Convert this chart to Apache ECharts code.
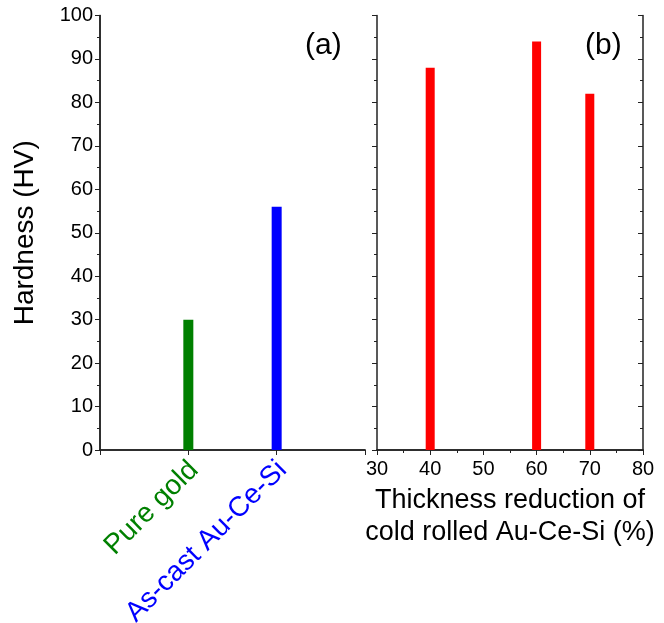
<!DOCTYPE html>
<html><head><meta charset="utf-8">
<script src="https://cdn.jsdelivr.net/npm/echarts@6/dist/echarts.min.js"></script>
<style>html,body{margin:0;padding:0;background:#fff}#c{width:664px;height:623px}</style>
</head><body><div id="c"></div>
<script>
// Data
var leftCategories = ['Pure gold', 'As-cast Au-Ce-Si'];
var leftPositions = [1, 2];
var leftHardness = [30, 56];
var rightReduction = [40, 60, 70];
var rightHardness = [88, 94, 82];
var yTicks = [0, 100, 10];      // min, max, interval
var xRightTicks = [30, 80, 10];

var leftColors = ['#008000', '#0000ff'];
var FONT = '"Liberation Sans", Arial, sans-serif';
var AX = '#222';

var chart = echarts.init(document.getElementById('c'), null, {renderer: 'canvas'});

function yAx(grid, pos, inside, labels, name) {
  return {
    type: 'value', gridIndex: grid, position: pos,
    min: yTicks[0], max: yTicks[1], interval: yTicks[2],
    name: name || '', nameLocation: 'middle', nameGap: 61,
    nameTextStyle: {fontFamily: FONT, fontSize: 28, color: '#000'},
    axisLine: {show: true, lineStyle: {color: AX, width: 1.5}},
    axisTick: {show: true, inside: inside, length: 5, lineStyle: {color: AX, width: 1}},
    minorTick: {show: true, splitNumber: 2, length: 3, lineStyle: {color: AX, width: 1}},
    axisLabel: {show: labels, fontFamily: FONT, fontSize: 20, color: '#000', margin: 7},
    splitLine: {show: false}, minorSplitLine: {show: false}
  };
}

var leftData = leftPositions.map(function (p, i) {
  return {value: [p, leftHardness[i]], itemStyle: {color: leftColors[i]}};
});
var rightData = rightReduction.map(function (r, i) { return [r, rightHardness[i]]; });

var option = {
  animation: false,
  grid: [
    {left: 100, right: 299, top: 15.5, bottom: 173, containLabel: false, outerBoundsMode: 'none'},
    {left: 377, right: 21, top: 15.5, bottom: 173, containLabel: false, outerBoundsMode: 'none'}
  ],
  xAxis: [
    {
      type: 'value', gridIndex: 0, position: 'bottom', min: 0, max: 3, interval: 1,
      axisLine: {show: true, lineStyle: {color: AX, width: 1.5}},
      axisTick: {show: true, length: 5, lineStyle: {color: AX}},
      axisLabel: {
        show: true, rotate: 45, margin: 10, fontFamily: FONT, fontSize: 28,
        padding: [16, 0, 0, 0],
        formatter: function (v) {
          var i = leftPositions.indexOf(v);
          return i < 0 ? '' : '{c' + i + '|' + leftCategories[i] + '}';
        },
        rich: {
          c0: {color: leftColors[0], fontFamily: FONT, fontSize: 28},
          c1: {color: leftColors[1], fontFamily: FONT, fontSize: 28}
        }
      },
      splitLine: {show: false}
    },
    {
      type: 'value', gridIndex: 0, position: 'top', min: 0, max: 3, interval: 1,
      axisLine: {show: true, lineStyle: {color: AX, width: 1.5}},
      axisTick: {show: true, inside: true, length: 5, lineStyle: {color: AX}},
      axisLabel: {show: false}, splitLine: {show: false}
    },
    {
      type: 'value', gridIndex: 1, position: 'bottom',
      min: xRightTicks[0], max: xRightTicks[1], interval: xRightTicks[2],
      name: 'Thickness reduction of\ncold rolled Au-Ce-Si (%)',
      nameLocation: 'middle', nameGap: 35,
      nameTextStyle: {fontFamily: FONT, fontSize: 27, color: '#000', lineHeight: 32},
      axisLine: {show: true, lineStyle: {color: AX, width: 1.5}},
      axisTick: {show: true, length: 5, lineStyle: {color: AX}},
      minorTick: {show: true, splitNumber: 2, length: 3, lineStyle: {color: AX}},
      axisLabel: {fontFamily: FONT, fontSize: 20, color: '#000', margin: 9},
      splitLine: {show: false}
    },
    {
      type: 'value', gridIndex: 1, position: 'top',
      min: xRightTicks[0], max: xRightTicks[1], interval: xRightTicks[2],
      axisLine: {show: true, lineStyle: {color: AX, width: 1.5}},
      axisTick: {show: true, inside: true, length: 5, lineStyle: {color: AX}},
      minorTick: {show: true, splitNumber: 2, length: 3, lineStyle: {color: AX}},
      axisLabel: {show: false}, splitLine: {show: false}
    }
  ],
  yAxis: [
    yAx(0, 'left', false, true, 'Hardness (HV)'),
    yAx(0, 'right', true, false),
    yAx(1, 'left', false, false),
    yAx(1, 'right', true, false)
  ],
  graphic: [
    {type: 'text', left: 305, top: 31, style: {text: '(a)', font: '30px ' + FONT, fill: '#000'}},
    {type: 'text', left: 585, top: 31, style: {text: '(b)', font: '30px ' + FONT, fill: '#000'}}
  ],
  series: [
    {type: 'bar', xAxisIndex: 0, yAxisIndex: 0, barWidth: 10, data: leftData},
    {type: 'bar', xAxisIndex: 2, yAxisIndex: 2, barWidth: 9, itemStyle: {color: '#ff0000'}, data: rightData}
  ]
};
chart.setOption(option);
</script>
</body></html>
